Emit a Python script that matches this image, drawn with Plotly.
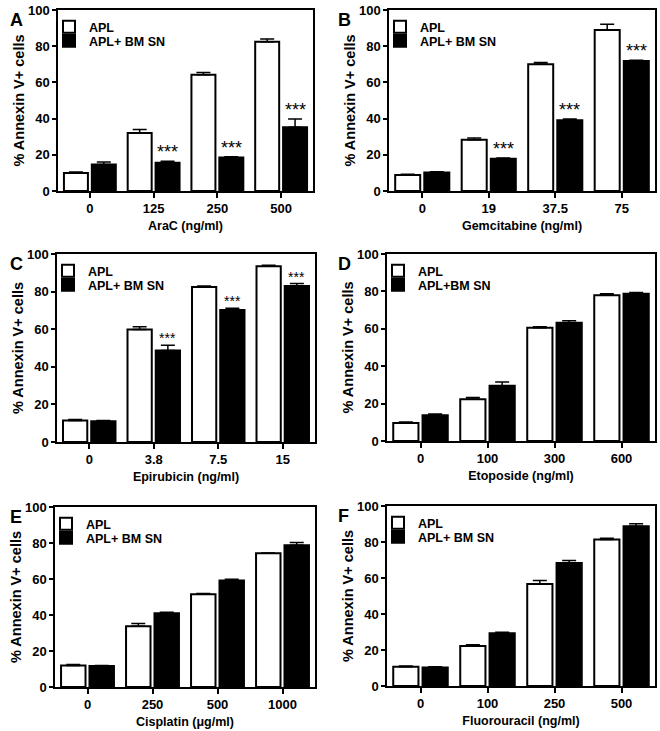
import plotly.graph_objects as go

W, H = 660, 731

# ---------------- data ----------------
ticks_A = ["0", "125", "250", "500"]
apl_A = [10, 32, 64.2, 82.5]
apl_A_err = [0.5, 2.0, 1.3, 1.5]
bm_A = [14.7, 15.6, 18.5, 35.2]
bm_A_err = [1.3, 0.8, 0.4, 4.6]
sig_A = ["", "***", "***", "***"]

ticks_B = ["0", "19", "37.5", "75"]
apl_B = [8.8, 28.3, 70.0, 88.9]
apl_B_err = [0.5, 1.0, 1.0, 3.2]
bm_B = [10.2, 17.8, 39.1, 71.8]
bm_B_err = [0.5, 0.5, 0.7, 0.5]
sig_B = ["", "***", "***", "***"]

ticks_C = ["0", "3.8", "7.5", "15"]
apl_C = [11.5, 59.8, 82.5, 93.5]
apl_C_err = [0.5, 1.5, 0.5, 0.5]
bm_C = [11.0, 48.7, 70.2, 83.0]
bm_C_err = [0.4, 2.7, 1.0, 1.3]
sig_C = ["", "***", "***", "***"]

ticks_D = ["0", "100", "300", "600"]
apl_D = [9.6, 22.3, 60.5, 78.0]
apl_D_err = [0.5, 1.0, 0.6, 0.8]
bm_D = [13.8, 29.6, 63.3, 78.7]
bm_D_err = [0.7, 2.0, 1.0, 0.7]
sig_D = ["", "", "", ""]

ticks_E = ["0", "250", "500", "1000"]
apl_E = [12.0, 33.7, 51.5, 74.3]
apl_E_err = [0.5, 1.6, 0.4, 0.2]
bm_E = [11.6, 41.0, 59.2, 78.8]
bm_E_err = [0.4, 0.5, 0.6, 1.5]
sig_E = ["", "", "", ""]

ticks_F = ["0", "100", "250", "500"]
apl_F = [10.7, 22.2, 56.6, 81.4]
apl_F_err = [0.4, 0.7, 2.0, 0.7]
bm_F = [10.3, 29.3, 68.4, 88.8]
bm_F_err = [0.4, 0.6, 1.3, 1.3]
sig_F = ["", "", "", ""]

y_ticks = [0, 20, 40, 60, 80, 100]

panels = [
    dict(letter="A", ticks=ticks_A, apl=apl_A, apl_err=apl_A_err, bm=bm_A, bm_err=bm_A_err, sig=sig_A,
         xtitle="AraC (ng/ml)", bm_name="APL+ BM SN", px=(58, 313), py=(10, 191), lx=8, star=18),
    dict(letter="B", ticks=ticks_B, apl=apl_B, apl_err=apl_B_err, bm=bm_B, bm_err=bm_B_err, sig=sig_B,
         xtitle="Gemcitabine (ng/ml)", bm_name="APL+ BM SN", px=(389, 655), py=(10, 191), lx=336, star=18),
    dict(letter="C", ticks=ticks_C, apl=apl_C, apl_err=apl_C_err, bm=bm_C, bm_err=bm_C_err, sig=sig_C,
         xtitle="Epirubicin (ng/ml)", bm_name="APL+ BM SN", px=(57, 315), py=(254, 442), lx=8, star=14),
    dict(letter="D", ticks=ticks_D, apl=apl_D, apl_err=apl_D_err, bm=bm_D, bm_err=bm_D_err, sig=sig_D,
         xtitle="Etoposide (ng/ml)", bm_name="APL+BM SN", px=(387, 655), py=(254, 441), lx=336, star=14),
    dict(letter="E", ticks=ticks_E, apl=apl_E, apl_err=apl_E_err, bm=bm_E, bm_err=bm_E_err, sig=sig_E,
         xtitle="Cisplatin (\u03bcg/ml)", bm_name="APL+ BM SN", px=(55, 315), py=(507, 687), lx=8, star=14),
    dict(letter="F", ticks=ticks_F, apl=apl_F, apl_err=apl_F_err, bm=bm_F, bm_err=bm_F_err, sig=sig_F,
         xtitle="Fluorouracil (ng/ml)", bm_name="APL+ BM SN", px=(387, 655), py=(506, 686), lx=336, star=14),
]

FONT = "Liberation Sans"
BAR_SLOT = 0.4375  # (1 - bargap) / 2

fig = go.Figure()
layout = dict(
    width=W, height=H, margin=dict(l=0, r=0, t=0, b=0, autoexpand=False),
    paper_bgcolor="white", plot_bgcolor="white",
    barmode="group", bargap=0.125, bargroupgap=0.14,
    font=dict(family=FONT, color="black", size=12),
    showlegend=True,
)
annotations = []

for i, p in enumerate(panels):
    k = "" if i == 0 else str(i + 1)
    xa, ya = "x" + k, "y" + k
    leg_a = "legend" if i == 0 else "legend" + str(2 * i + 1)
    leg_b = "legend" + str(2 * i + 2)
    xs = list(range(len(p["ticks"])))
    err_style = dict(type="data", symmetric=False, arrayminus=[0] * 4,
                     color="black", thickness=1.5, width=7)
    fig.add_trace(go.Bar(
        x=xs, y=p["apl"], name="APL", xaxis=xa, yaxis=ya, legend=leg_a,
        marker=dict(color="white", line=dict(color="black", width=2)),
        error_y=dict(array=p["apl_err"], **err_style), offsetgroup="a",
    ))
    fig.add_trace(go.Bar(
        x=xs, y=p["bm"], name=p["bm_name"], xaxis=xa, yaxis=ya, legend=leg_b,
        marker=dict(color="black", line=dict(color="black", width=2)),
        error_y=dict(array=p["bm_err"], **err_style), offsetgroup="b",
    ))
    x0, x1 = p["px"]
    yt, yb = p["py"]
    axis_common = dict(showline=True, linecolor="black", linewidth=1.5, mirror=True,
                       ticks="outside", tickwidth=1.5, tickcolor="black", showgrid=False,
                       zeroline=False, automargin=False,
                       tickfont=dict(family=FONT, size=13, weight="bold"))
    layout["xaxis" + k] = dict(
        domain=[x0 / W, x1 / W], anchor=ya, range=[-0.5, 3.5],
        tickmode="array", tickvals=xs, ticktext=p["ticks"], ticklen=5,
        title=dict(text=p["xtitle"], font=dict(family=FONT, size=12.5, weight="bold"), standoff=6),
        **axis_common,
    )
    layout["yaxis" + k] = dict(
        domain=[1 - yb / H, 1 - yt / H], anchor=xa, range=[0, 100],
        tickmode="array", tickvals=y_ticks, ticklen=4,
        title=dict(text="% Annexin V+ cells", font=dict(family=FONT, size=14.5, weight="bold"), standoff=0),
        **axis_common,
    )
    leg_common = dict(xanchor="left", yanchor="top", bgcolor="rgba(0,0,0,0)", borderwidth=0,
                      itemwidth=30, font=dict(family=FONT, size=12.5, weight="bold"))
    layout[leg_a] = dict(x=(x0 - 9) / W, y=1 - (yt + 2) / H, **leg_common)
    layout[leg_b] = dict(x=(x0 - 9) / W, y=1 - (yt + 16) / H, **leg_common)
    # panel letter
    annotations.append(dict(
        text="<b>%s</b>" % p["letter"], xref="paper", yref="paper",
        x=p["lx"] / W, y=1 - (yt - 2) / H, xanchor="left", yanchor="top", showarrow=False,
        font=dict(family=FONT, size=18, color="black"),
    ))
    # significance stars
    for j, s in enumerate(p["sig"]):
        if s:
            annotations.append(dict(
                text=s, xref=xa, yref=ya, x=xs[j] + BAR_SLOT / 2,
                y=p["bm"][j] + p["bm_err"][j], yanchor="bottom", xanchor="center",
                showarrow=False, yshift=-3,
                font=dict(family=FONT, size=p["star"], color="black"),
            ))

layout["annotations"] = annotations
fig.update_layout(**layout)
fig.write_html("out.html", post_script="document.body.style.margin='0';",
               config={"displayModeBar": False})
